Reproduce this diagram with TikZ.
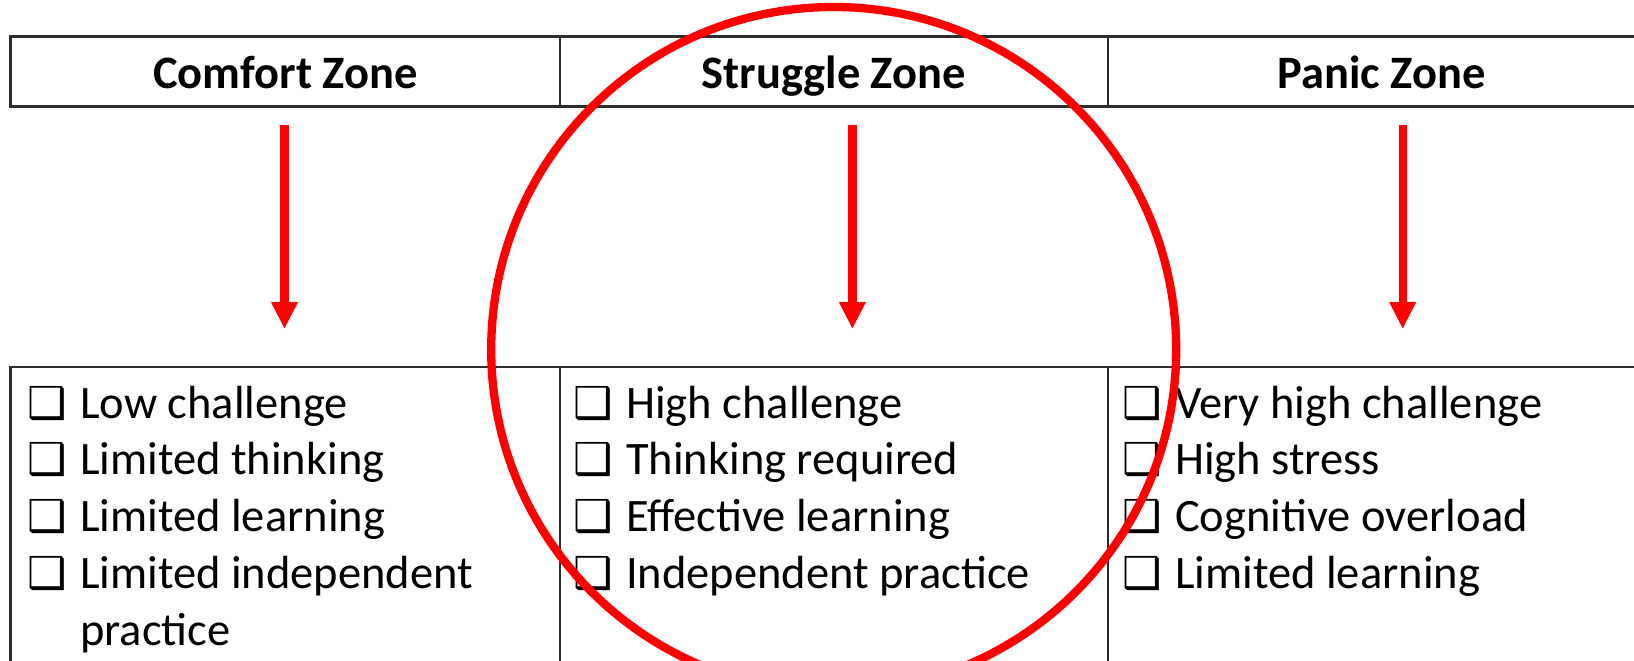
\documentclass[tikz,border=0pt]{standalone}
\usepackage{fontspec}
\setmainfont{Carlito}
\newfontfamily\boxfont{DejaVu Sans}
\usetikzlibrary{positioning}
\usetikzlibrary{arrows.meta}
\definecolor{red}{RGB}{255,0,0}
\definecolor{rule}{RGB}{45,45,45}
\newcommand{\zbox}{\makebox[53pt][l]{\boxfont\bfseries\fontsize{44}{44}\selectfont ❑}}

\begin{document}
\begin{tikzpicture}[x=1pt,y=-1pt,
    cell/.style={draw=rule,line width=2.2pt,minimum height=70pt,inner sep=0pt,outer sep=0pt,anchor=north west},
    title/.style={font=\bfseries\fontsize{46.5}{56}\selectfont,inner sep=0pt,anchor=base},
    item/.style={font=\fontsize{46.5}{57}\selectfont,inner sep=0pt,anchor=base west},
    zonearrow/.style={red,line width=8.3pt,-{Triangle[width=25pt,length=27pt]}},
    zonecircle/.style={red,line width=8.3pt}]
\useasboundingbox (0,0) rectangle (1634,661);
\clip (0,0) rectangle (1634,661);

    % header and body cells
    \foreach \x/\w [count=\i] in {10.4/549.2,559.6/548.1,1107.7/600} {
        \node[cell,minimum width=\w pt] (head\i) at (\x,36.5) {};
        \node[cell,minimum width=\w pt,minimum height=340pt] (body\i) at (\x,367) {};
    }

    % titles
    \foreach \x/\name [count=\i] in {285.5/Comfort Zone,833.7/Struggle Zone,1381.8/Panic Zone}
        \node[title] (title\i) at (\x,88.5) {\name};

    % arrows
    \foreach \x [count=\i] in {284.5,852.4,1402.7} {
        \coordinate (from\i) at (\x,125);
        \coordinate (to\i) at (\x,329);
        \draw[zonearrow] (from\i) -- (to\i);
    }

    % lists
    \foreach \txt [count=\j] in {Low challenge,Limited thinking,Limited learning,Limited independent}
        \node[item] (left\j) at (27,{418+56.8*(\j-1)}) {\zbox\txt};
    \node[item] (left5) at ([xshift=53pt,yshift=-56.8pt]left4.base west) {practice};
    \foreach \txt [count=\j] in {High challenge,Thinking required,Effective learning,Independent practice}
        \node[item] (mid\j) at (573,{418+56.8*(\j-1)}) {\zbox\txt};
    \foreach \txt [count=\j] in {Very high challenge,High stress,Cognitive overload,Limited learning}
        \node[item] (right\j) at (1122,{418+56.8*(\j-1)}) {\zbox\txt};

    % struggle circle
    \draw[zonecircle] (833.7,349.5) circle[radius=342.5pt];
\end{tikzpicture}
\end{document}
